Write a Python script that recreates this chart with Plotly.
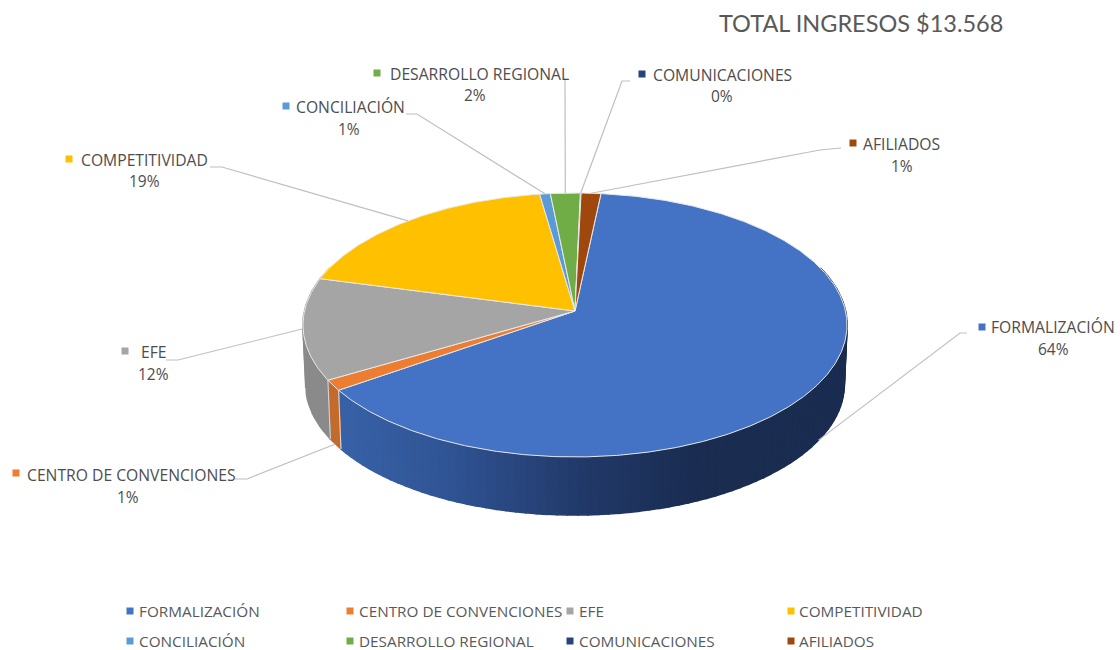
import numpy as np
import plotly.graph_objects as go

# --- data ---
categories = ["FORMALIZACIÓN", "CENTRO DE CONVENCIONES", "EFE", "COMPETITIVIDAD",
              "CONCILIACIÓN", "DESARROLLO REGIONAL", "COMUNICACIONES", "AFILIADOS"]
values = [8635, 176, 1690, 2524, 95, 265, 7, 176]
colors = ["#4472C4", "#ED7D31", "#A5A5A5", "#FFC000", "#5B9BD5", "#70AD47", "#264478", "#9E480E"]
wall_colors = [None, "#C46A2A", "#8A8A8A", "#D9A300", "#4D84B5", "#5F933C", "#203A66", "#863D0C"]
title_text = "TOTAL INGRESOS $13.568"

# --- layout constants (pixels of the 1120x650 canvas) ---
W, H = 1120, 650
CX, CY, A, B, K = 575.0, 311.0, 130.5, 270.5, 0.106
START_DEG = 6.1
DEPTH, SHRINK = 59.5, 0.99
TEXT = "#4D4D4D"
FONT = "Open Sans"
# key x, key y, text left x, text y, pct centre x, pct y, elbow points, leader from bottom rim?
label_pos = [
    (982, 327, 989, 327, 1053, 349, [(960, 333), (967, 333)], True),
    (16, 473, 25, 475, 128, 497, [(247, 479), (235, 479)], True),
    (125, 351, 139, 352, 153, 374, [(178, 360), (166, 360)], False),
    (69, 159, 79, 160, 144, 181, [(222, 167), (210, 167)], False),
    (286, 106, 294, 107, 349, 129, [(417, 114), (406, 114)], False),
    (377, 73, 388, 74, 475, 95, [(565, 79), (563, 79)], False),
    (642, 74, 651, 75, 722, 96, [(622, 81), (630, 81)], False),
    (853, 143, 861, 144, 902, 166, [(820, 150), (841, 148)], False),
]
legend_key_x = [130, 350, 570, 791, 130, 350, 570, 791]
legend_key_y = [611, 611, 611, 611, 641, 641, 641, 641]


def rim(deg, bottom=False):
    t = np.radians(np.asarray(deg, dtype=float))
    X, Y = np.sin(t), np.cos(t)
    d = 1 + K * Y
    x, y = B * X / d, -A * Y / d
    if bottom:
        return CX + x * SHRINK, CY + y * SHRINK + DEPTH
    return CX + x, CY + y


def blue_wall(x):
    xs = [340, 450, 580, 700, 850]
    rs = [56, 48, 34, 26, 26]
    gs = [98, 84, 58, 44, 44]
    bs = [168, 148, 106, 80, 80]
    return "rgb(%d,%d,%d)" % (np.interp(x, xs, rs), np.interp(x, xs, gs), np.interp(x, xs, bs))


total = sum(values)
fractions = np.array(values) / total
edges = START_DEG + 360 * np.concatenate([[0], np.cumsum(fractions)])

fig = go.Figure()

# side wall: drawn first, top face covers what is behind it
for i in range(len(values)):
    a0, a1 = edges[i], edges[i + 1]
    lo, hi = max(a0, 70), min(a1, 290)
    if hi <= lo:
        continue
    n = max(1, int(np.ceil((hi - lo) / (2.0 if i == 0 else 6.0))))
    steps = np.linspace(lo, hi, n + 1)
    for s0, s1 in zip(steps[:-1], steps[1:]):
        arc = np.linspace(s0, s1, 5)
        xt, yt = rim(arc)
        xb, yb = rim(arc, bottom=True)
        px = np.concatenate([xt, xb[::-1], xt[:1]])
        py = np.concatenate([yt, yb[::-1], yt[:1]])
        col = blue_wall(xt.mean()) if i == 0 else wall_colors[i]
        fig.add_trace(go.Scatter(x=px, y=py, mode="lines", fill="toself", fillcolor=col,
                                 line=dict(color=col, width=1.6), hoverinfo="skip",
                                 showlegend=False))
    # pale seam at the slice's start
    for edge in (a0, a1):
        if 70 < edge < 290:
            xs0, ys0 = rim(edge)
            xs1, ys1 = rim(edge, bottom=True)
            fig.add_trace(go.Scatter(x=[xs0, xs1], y=[ys0, ys1], mode="lines",
                                     line=dict(color="#D9D9D9", width=1), hoverinfo="skip",
                                     showlegend=False))

# top face
for i, (name, col) in enumerate(zip(categories, colors)):
    arc = np.linspace(edges[i], edges[i + 1], max(3, int((edges[i + 1] - edges[i]) * 2)))
    xa, ya = rim(arc)
    px = np.concatenate([[CX], xa, [CX]])
    py = np.concatenate([[CY], ya, [CY]])
    fig.add_trace(go.Scatter(x=px, y=py, mode="lines", fill="toself", fillcolor=col,
                             line=dict(color="#E9E9E9", width=1), name=name,
                             hoverinfo="name", showlegend=False))

# leader lines
for i, pos in enumerate(label_pos):
    mid = (edges[i] + edges[i + 1]) / 2
    sx, sy = rim(mid, bottom=pos[7])
    pts = [(float(sx), float(sy))] + pos[6]
    fig.add_trace(go.Scatter(x=[p[0] for p in pts], y=[p[1] for p in pts], mode="lines",
                             line=dict(color="#BFBFBF", width=1.2), hoverinfo="skip",
                             showlegend=False))

# data-label keys and legend keys (the legend's own swatch cannot sit this close to its text)
fig.add_trace(go.Scatter(x=[p[0] for p in label_pos] + legend_key_x,
                         y=[p[1] for p in label_pos] + legend_key_y, mode="markers",
                         marker=dict(symbol="square", size=7, color=colors + colors, line=dict(width=0)),
                         hoverinfo="skip", showlegend=False))

annotations = [dict(x=717, y=23, xref="x", yref="y", xanchor="left", yanchor="middle", showarrow=False,
                    text=title_text, font=dict(family="Lato", size=23.5, color="#595959"))]
for name, v, pos in zip(categories, values, label_pos):
    annotations.append(dict(x=pos[2], y=pos[3], xref="x", yref="y", xanchor="left", yanchor="middle",
                            showarrow=False, text=name, font=dict(family=FONT, size=15.7, color=TEXT)))
    annotations.append(dict(x=pos[4], y=pos[5], xref="x", yref="y", xanchor="center", yanchor="middle",
                            showarrow=False, text="%d%%" % round(v / total * 100),
                            font=dict(family=FONT, size=15.5, color=TEXT)))

# legend entries: two rows of four
for i, name in enumerate(categories):
    fig.add_trace(go.Scatter(x=[None], y=[None], mode="markers", name=name,
                             marker=dict(symbol="square", size=7, color="rgba(0,0,0,0)"),
                             legend="legend" if i < 4 else "legend2"))

legend_common = dict(orientation="h", xanchor="left", yanchor="middle", entrywidth=175,
                     entrywidthmode="pixels", font=dict(family=FONT, size=15.3, color="#595959"),
                     bgcolor="rgba(0,0,0,0)", itemclick=False, itemdoubleclick=False,
                     traceorder="normal")

fig.update_layout(
    width=W, height=H, margin=dict(l=0, r=0, t=0, b=0, autoexpand=False),
    paper_bgcolor="white", plot_bgcolor="white",
    xaxis=dict(range=[0, W], visible=False, fixedrange=True),
    yaxis=dict(range=[H, 0], visible=False, fixedrange=True),
    annotations=annotations,
    legend=dict(x=99 / W, y=1 - 611 / H, **legend_common),
    legend2=dict(x=99 / W, y=1 - 641 / H, **legend_common),
)

fig.write_html("out.html", post_script="document.body.style.margin='0';",
               config=dict(displayModeBar=False))
